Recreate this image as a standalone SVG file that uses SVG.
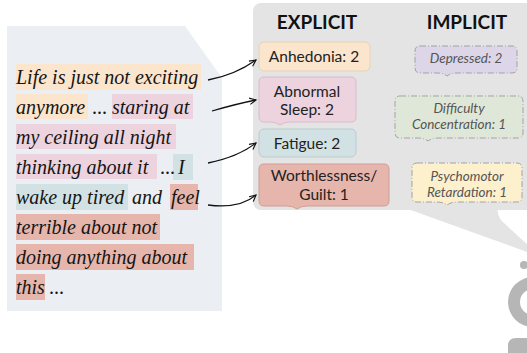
<svg xmlns="http://www.w3.org/2000/svg" width="527" height="353" viewBox="0 0 527 353">
<defs>
<style>
.q{font-family:"Liberation Serif","DejaVu Serif",serif;font-style:italic;font-size:20px;fill:#151515}
.h{font-family:Lato,"Liberation Sans",sans-serif;font-weight:bold;font-size:19px;fill:#111;text-anchor:middle}
.ex{font-family:Lato,"Liberation Sans",sans-serif;font-size:15.5px;fill:#222;text-anchor:middle}
.im{font-family:Lato,"Liberation Sans",sans-serif;font-style:italic;font-size:13.5px;fill:#555;text-anchor:middle}
.imb{stroke:#a3a3a3;stroke-width:1;stroke-dasharray:6 2 1 2}
.exb{stroke-width:1}
.arr{fill:none;stroke:#111;stroke-width:1.3;marker-end:url(#ah)}
</style>
<marker id="ah" viewBox="0 0 10 10" refX="9" refY="5" markerWidth="8" markerHeight="8" markerUnits="userSpaceOnUse" orient="auto">
<path d="M1,1 L9,5 L1,9" fill="none" stroke="#111" stroke-width="1.4"/>
</marker>
</defs>

<!-- left text panel -->
<g id="quote">
<path d="M7,26 H185 L222,78 V311 H7 Z" fill="#ebeef3"/>
<rect x="16" y="64" width="185" height="26" fill="#fbe5cd"/>
<rect x="16" y="94" width="72" height="25" fill="#fbe5cd"/>
<rect x="112" y="94" width="81" height="25" fill="#ecd3de"/>
<rect x="16" y="124" width="160" height="25" fill="#ecd3de"/>
<rect x="16" y="154" width="141" height="25" fill="#ecd3de"/>
<rect x="173" y="154" width="20" height="26" fill="#d2e2e4"/>
<rect x="16" y="184" width="112" height="26" fill="#d2e2e4"/>
<rect x="170" y="184" width="28" height="26" fill="#e6b5ac"/>
<rect x="16" y="214" width="144" height="26" fill="#e6b5ac"/>
<rect x="16" y="244" width="178" height="26" fill="#e6b5ac"/>
<rect x="16" y="274" width="29" height="26" fill="#e6b5ac"/>
<text class="q" x="16" y="84">Life is just not exciting</text>
<text class="q" y="114"><tspan x="16">anymore</tspan><tspan x="92" font-style="normal">...</tspan><tspan x="112">staring at</tspan></text>
<text class="q" x="16" y="144">my ceiling all night</text>
<text class="q" y="174"><tspan x="16">thinking about it</tspan><tspan x="160" font-style="normal">...</tspan><tspan x="178">I</tspan></text>
<text class="q" y="204"><tspan x="16">wake up tired</tspan><tspan x="132">and</tspan><tspan x="171">feel</tspan></text>
<text class="q" x="16" y="234">terrible about not</text>
<text class="q" x="16" y="264">doing anything about</text>
<text class="q" y="294"><tspan x="16">this</tspan><tspan x="49" font-style="normal">...</tspan></text>
</g>

<!-- right panel -->
<g id="panel">
<rect x="253" y="3" width="290" height="207" rx="8" fill="#e4e4e4"/>
<path d="M405,208 L530,253 L530,247 L505,224 Q496,216 498,208 Z" fill="#e4e4e4"/>
<text class="h" x="317" y="29">EXPLICIT</text>
<text class="h" x="467" y="29">IMPLICIT</text>
</g>

<!-- partial person icon -->
<g id="person" fill="#b6b6b6">
<circle cx="524" cy="265" r="4"/>
<path d="M533,277 A25,25 0 1 0 533,327 V315 A13,13 0 1 1 533,289 Z"/>
<path d="M508,353 V346 Q508,338 516,338 H540 V353 Z"/>
</g>

<g id="anhedonia">
<rect x="259" y="42" width="111" height="29" rx="5" fill="#fbe5cd" stroke="#e6d2b8" class="exb"/>
<text class="ex" x="314" y="62">Anhedonia: 2</text>
</g>
<g id="sleep">
<path d="M264,77 H351 Q356,77 356,82 V117 Q356,122 351,122 H290 Q284,122 280,125 Q276,122 270,122 H264 Q259,122 259,117 V82 Q259,77 264,77 Z" fill="#ecd3de" stroke="#d8bcc8" class="exb"/>
<text class="ex" x="307" y="97">Abnormal</text>
<text class="ex" x="307" y="115">Sleep: 2</text>
</g>
<g id="fatigue">
<rect x="259" y="129" width="97" height="28" rx="5" fill="#d2e2e4" stroke="#b9cccf" class="exb"/>
<text class="ex" x="307" y="149">Fatigue: 2</text>
</g>
<g id="worthless">
<path d="M264,164 H384 Q389,164 389,169 V201 Q389,206 384,206 H307 Q301,206 297,209 Q293,206 287,206 H264 Q259,206 259,201 V169 Q259,164 264,164 Z" fill="#e6b5ac" stroke="#cf9e95" class="exb"/>
<text class="ex" x="324" y="181">Worthlessness/</text>
<text class="ex" x="324" y="200">Guilt: 1</text>
</g>

<g id="depressed">
<path d="M420,46 H512 Q517,46 517,51 V68 Q517,73 512,73 H457 Q451,73 447,76 Q443,73 437,73 H420 Q415,73 415,68 V51 Q415,46 420,46 Z" fill="#ddd5e8" class="imb"/>
<text class="im" x="466" y="63">Depressed: 2</text>
</g>
<g id="difficulty">
<path d="M400,96 H518 Q523,96 523,101 V133 Q523,138 518,138 H438 Q432,138 428,141 Q424,138 418,138 H400 Q395,138 395,133 V101 Q395,96 400,96 Z" fill="#dfe8d8" class="imb"/>
<text class="im" x="459" y="113">Difficulty</text>
<text class="im" x="459" y="129">Concentration: 1</text>
</g>
<g id="psychomotor">
<path d="M417,163 H517 Q522,163 522,168 V197 Q522,202 517,202 H457 Q451,202 447,205 Q443,202 437,202 H417 Q412,202 412,197 V168 Q412,163 417,163 Z" fill="#fdf0cd" class="imb"/>
<text class="im" x="467" y="181">Psychomotor</text>
<text class="im" x="467" y="197">Retardation: 1</text>
</g>

<g id="connectors">
<path class="arr" d="M208,80 Q235,75 256,60"/>
<path class="arr" d="M212,111 Q236,104 256,100"/>
<path class="arr" d="M208,163 Q238,157 256,143"/>
<path class="arr" d="M208,205 Q240,209 256,195"/>
</g>
</svg>
